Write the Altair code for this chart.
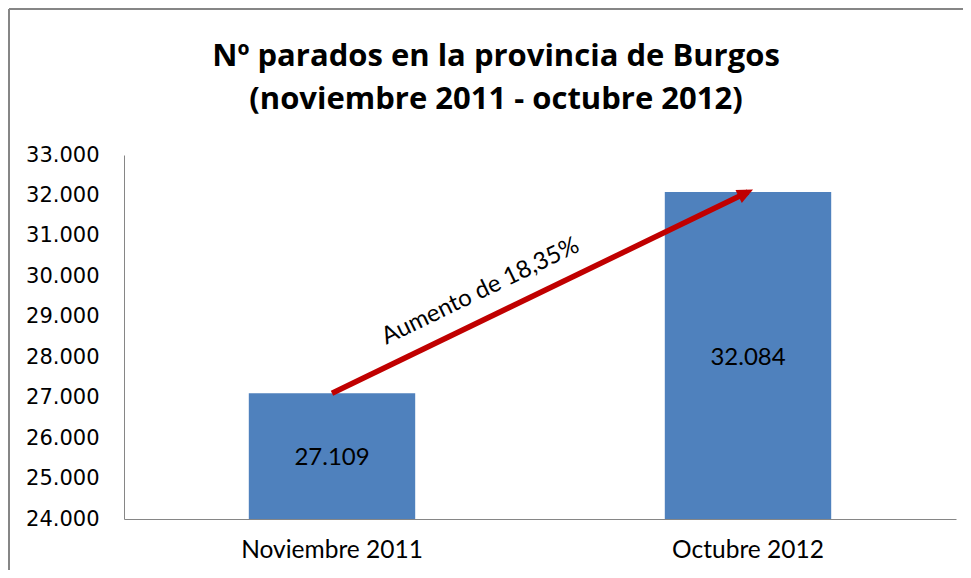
import math
import altair as alt
import pandas as pd

# Data
categories = ["Noviembre 2011", "Octubre 2012"]
values = [27109, 32084]
y_ticks = [24000, 25000, 26000, 27000, 28000, 29000, 30000, 31000, 32000, 33000]
title_lines = ["Nº parados en la provincia de Burgos", "(noviembre 2011 - octubre 2012)"]
annotation_text = "Aumento de 18,35%"
label_texts = ["27.109", "32.084"]

Y_MIN, Y_MAX = 24000, 33000
W, H = 832, 364

df = pd.DataFrame({"cat": categories, "value": values, "label": label_texts})

x_enc = alt.X("cat:N", sort=categories,
              scale=alt.Scale(paddingInner=0.6, paddingOuter=0.3),
              axis=alt.Axis(title=None, labelAngle=0, ticks=False, domainColor="#868686",
                            labelFont="Lato", labelFontSize=24.5, labelColor="#000000",
                            labelPadding=19, labelLimit=400))
y_scale = alt.Scale(domain=[Y_MIN, Y_MAX], zero=False, nice=False)
y_enc = alt.Y("value:Q", scale=y_scale,
              axis=alt.Axis(title=None, values=y_ticks, ticks=False, grid=False,
                            domainColor="#868686", labelFont="DejaVu Sans",
                            labelFontSize=21, labelColor="#000000", labelPadding=25,
                            labelExpr="replace(format(datum.value, ','), ',', '.')"))

base = alt.Chart(df)

bars = base.mark_bar(color="#4F81BD").encode(x=x_enc, y=y_enc, y2=alt.datum(Y_MIN))

labels = base.transform_calculate(mid=f"(datum.value + {Y_MIN}) / 2").mark_text(
    font="Lato", fontSize=24, color="#000000", baseline="middle", align="center", dy=2
).encode(x=alt.X("cat:N", sort=categories), y=alt.Y("mid:Q", scale=y_scale),
         text="label:N")

# arrow angle from scales
step = W / (2 - 0.6 + 2 * 0.3)
dx_pix = step
dy_pix = (values[1] - values[0]) * H / (Y_MAX - Y_MIN)
ang = math.degrees(math.atan2(dy_pix, dx_pix))
rot = 360 - ang

shaft = base.mark_line(color="#C00000", strokeWidth=5.5, strokeCap="butt").encode(
    x=alt.X("cat:N", sort=categories), y=alt.Y("value:Q", scale=y_scale))

head_df = pd.DataFrame({"cat": [categories[1]], "value": [values[1]]})
head = alt.Chart(head_df).mark_point(
    shape="M0.35,0 L-0.65,-0.45 L-0.65,0.45 Z", filled=True, opacity=1,
    color="#C00000", size=1024, angle=rot, strokeWidth=0
).encode(x=alt.X("cat:N", sort=categories), y=alt.Y("value:Q", scale=y_scale))

ann_df = pd.DataFrame({"cat": [categories[0]], "value": [values[0]], "t": [annotation_text]})
ann = alt.Chart(ann_df).mark_text(
    font="Lato", fontSize=24, color="#000000", angle=rot, align="center",
    baseline="middle", dx=178, dy=-27
).encode(x=alt.X("cat:N", sort=categories), y=alt.Y("value:Q", scale=y_scale), text="t:N")

frame_left = alt.Chart(head_df).mark_rule(color="#868686", strokeWidth=2).encode(
    x=alt.value(-115), y=alt.value(-146), y2=alt.value(430))
frame_top = alt.Chart(head_df).mark_rule(color="#868686", strokeWidth=2).encode(
    x=alt.value(-115), x2=alt.value(860), y=alt.value(-146))

chart = alt.layer(bars, labels, shaft, head, ann, frame_left, frame_top).properties(
    width=W, height=H,
    autosize=alt.AutoSizeParams(type="none"),
    padding={"left": 116, "top": 147, "right": 7, "bottom": 51},
    title=alt.TitleParams(text=title_lines, font="Open Sans", fontSize=31, fontWeight="bold",
                          color="#000000", anchor="middle", dx=-44, offset=-108,
                          lineHeight=43),
).configure_view(stroke=None)

chart.save("out.html", embed_options={"renderer": "svg", "actions": False})
